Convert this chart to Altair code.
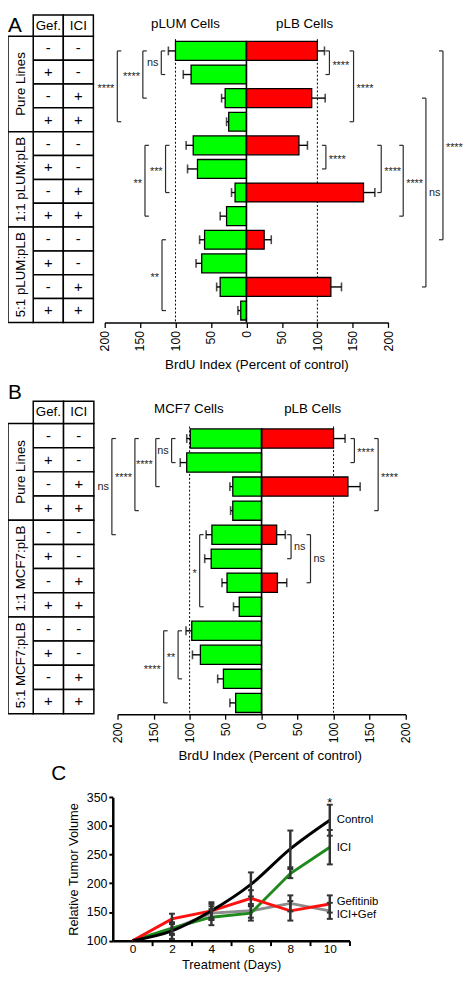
import altair as alt
import pandas as pd

FONT = "Liberation Sans"

# ------------------------------------------------------------------ data
ROWS = [f"r{i}" for i in range(1, 13)]
GEF = ["-", "+", "-", "+", "-", "+", "-", "+", "-", "+", "-", "+"]
ICI = ["-", "-", "+", "+", "-", "-", "+", "+", "-", "-", "+", "+"]
AXIS_TICKS = [-200, -150, -100, -50, 0, 50, 100, 150, 200]
REF_LINES = [-100, 100]

# Panel A
A_GROUPS = ["Pure Lines", "1:1 pLUM:pLB", "5:1 pLUM:pLB"]
A_HEADS = ["pLUM  Cells", "pLB Cells"]
A_PLUM = [100, 78, 30, 25, 75, 69, 16, 28, 59, 63, 37, 8]
A_PLUM_ERR = [10, 11, 5, 3, 10, 14, 5, 9, 7, 8, 5, 4]
A_PLB = [100, 0, 92, 0, 74, 0, 165, 0, 25, 0, 119, 0]
A_PLB_ERR = [10, 0, 19, 0, 12, 0, 16, 0, 10, 0, 15, 0]
# significance brackets: first row, last row, label
A_SIG_ROWS = [(1, 2), (1, 3), (1, 4), (5, 7), (5, 8), (9, 12),
              (1, 2), (1, 4), (5, 6), (5, 7), (5, 8), (3, 11), (1, 9)]
A_SIG_LABELS = ["ns", "****", "****", "***", "**", "**",
                "****", "****", "****", "****", "****", "ns", "****"]

# Panel B
B_GROUPS = ["Pure Lines", "1:1 MCF7:pLB", "5:1 MCF7:pLB"]
B_HEADS = ["MCF7 Cells", "pLB Cells"]
B_MCF7 = [99, 104, 40, 40, 69, 70, 48, 31, 97, 85, 53, 36]
B_MCF7_ERR = [5, 9, 4, 3, 8, 9, 7, 8, 8, 11, 8, 8]
B_PLB = [100, 0, 120, 0, 21, 0, 22, 0, 0, 0, 0, 0]
B_PLB_ERR = [16, 0, 17, 0, 12, 0, 13, 0, 0, 0, 0, 0]
B_SIG_ROWS = [(1, 2), (1, 3), (1, 4), (1, 5), (5, 8), (9, 11), (9, 12),
              (1, 2), (1, 4), (5, 6), (5, 7)]
B_SIG_LABELS = ["ns", "****", "****", "ns", "*", "**", "****",
                "****", "****", "ns", "ns"]

# Panel C
DAYS = [0, 2, 4, 6, 8, 10]
SERIES = ["Control", "ICI", "Gefitinib", "ICI+Gef"]
CONTROL = [100, 117, 152, 198, 260, 310]
CONTROL_ERR = [0, 14, 15, 21, 32, 27]
ICI_V = [100, 122, 141, 148, 217, 263]
ICI_ERR = [0, 10, 14, 13, 8, 30]
GEFIT = [100, 138, 152, 174, 152, 164]
GEFIT_ERR = [0, 9, 12, 14, 17, 15]
ICIGEF = [100, 120, 148, 152, 165, 152]
ICIGEF_ERR = [0, 10, 12, 12, 14, 14]
C_Y_TICKS = [100, 150, 200, 250, 300, 350]
C_LABEL_AT = [310, 262, 167, 144]

# ------------------------------------------------------------------ layout (reference pixels)
W, H = 461, 970
KX, KY = 0.983, H / 988.0


def px(x):
    return round((x - 2) * KX, 2)


def py(y):
    return round(y * KY, 2)


def lin(domain, r0, r1):
    return alt.Scale(domain=domain, range=[r0, r1], nice=False, zero=False)


def band(domain, r0, r1, pi=0.0, po=0.0):
    return alt.Scale(type="band", domain=domain, range=[r0, r1],
                     paddingInner=pi, paddingOuter=po)


LAY_A = dict(hdr=(0.8, 22.7), rows=(22.7, 318), bars=(25.6, 317.9), tx=(2, 28, 90),
             xr=(101.5, 394), axis=318, title_x=258, title_base=366,
             head_x=[-86, 82], head_dy=-2,
             sig_x=[-120, -146, -182, -114, -143, -119, 117, 151, 112, 190, 221, 253, 277])
LAY_B = dict(hdr=(399.3, 422.3), rows=(422.3, 721.7), bars=(425.4, 723.0), tx=(2, 28, 90.5),
             xr=(115, 411.7), axis=722.3, title_x=271.7, title_base=769,
             head_x=[-101, 71], head_dy=-3,
             sig_x=[-125, -147, -176, -208, -86, -116, -136, 129, 162, 41, 68])


def bar_panel(lay, groups, heads, left, left_err, right, right_err, sig_rows, sig_labels):
    h0, h1 = lay["hdr"]
    r0, r1 = lay["rows"]
    b0, b1 = lay["bars"]
    t0, t1, t2 = lay["tx"]
    x0, x1 = lay["xr"]
    ax = lay["axis"]
    L = []

    col_sc = band(["Gef.", "ICI"], px(t1), px(t2))
    row_sc = band(ROWS, py(r0), py(r1))
    hdr_sc = band(["hdr"], py(h0), py(h1))
    xv = lin([-200, 200], px(x0), px(x1))
    bar_sc = band(ROWS, py(b0), py(b1), 0.2, 0.1)
    step = (b1 - b0) / 12.0
    sig_sc = lin([1, 12], py(b0 + 0.5 * step), py(b0 + 11.5 * step))

    # ---- table
    cells = pd.DataFrame({"row": ROWS + ROWS, "col": ["Gef."] * 12 + ["ICI"] * 12,
                          "sym": GEF + ICI})
    enc = dict(x=alt.X("col:N", scale=col_sc, axis=None),
               y=alt.Y("row:N", scale=row_sc, axis=None))
    L.append(alt.Chart(cells).mark_rect(fill="white", stroke="black", strokeWidth=1.5).encode(**enc))
    L.append(alt.Chart(cells).mark_text(font=FONT, fontSize=15, color="black").encode(text="sym:N", **enc))

    grp = pd.DataFrame({"g": groups, "c": ["grp"] * 3})
    encg = dict(x=alt.X("c:N", scale=band(["grp"], px(t0), px(t1)), axis=None),
                y=alt.Y("g:N", scale=band(groups, py(r0), py(r1)), axis=None))
    L.append(alt.Chart(grp).mark_rect(fill="white", stroke="black", strokeWidth=1.5).encode(**encg))
    L.append(alt.Chart(grp).mark_text(font=FONT, fontSize=13.5, angle=270, color="black")
             .encode(text="g:N", **encg))

    hdr = pd.DataFrame({"col": ["Gef.", "ICI"], "h": ["hdr", "hdr"]})
    ench = dict(x=alt.X("col:N", scale=col_sc, axis=None),
                y=alt.Y("h:N", scale=hdr_sc, axis=None))
    L.append(alt.Chart(hdr).mark_rect(fill="white", stroke="black", strokeWidth=1.5).encode(**ench))
    L.append(alt.Chart(hdr).mark_text(font=FONT, fontSize=13.5, color="black").encode(text="col:N", **ench))

    # ---- headings
    hd = pd.DataFrame({"t": heads, "x": lay["head_x"], "h": ["hdr", "hdr"]})
    L.append(alt.Chart(hd).mark_text(font=FONT, fontSize=13.5, dy=lay["head_dy"], color="black").encode(
        x=alt.X("x:Q", scale=xv, axis=None), y=alt.Y("h:N", scale=hdr_sc, axis=None), text="t:N"))

    # ---- dotted reference lines
    L.append(alt.Chart(pd.DataFrame({"x": REF_LINES})).mark_rule(
        color="black", strokeWidth=1, strokeDash=[2, 2]).encode(
        x=alt.X("x:Q", scale=xv, axis=None), y=alt.value(py(b0)), y2=alt.value(py(ax))))

    # ---- bars
    recs = []
    for i, r in enumerate(ROWS):
        if left[i] > 0:
            recs.append(dict(row=r, cell="L", v0=0, v=-left[i], e=-(left[i] + left_err[i])))
        if right[i] > 0:
            recs.append(dict(row=r, cell="R", v0=0, v=right[i], e=right[i] + right_err[i]))
    bars = pd.DataFrame(recs)
    axis = alt.Axis(orient="bottom", offset=py(ax) - H, values=AXIS_TICKS,
                    labelExpr="'' + abs(datum.value)", labelAngle=270, labelAlign="right",
                    labelBaseline="middle", labelPadding=3, labelFont=FONT, labelFontSize=12.5,
                    labelColor="black", tickSize=5, tickWidth=1.3, tickColor="black",
                    domainColor="black", domainWidth=1.5, grid=False, labelOverlap=False,
                    labelFlush=False, title="BrdU Index (Percent of control)", titleFont=FONT,
                    titleFontSize=13.5, titleFontWeight="normal", titleColor="black",
                    titleX=px(lay["title_x"]), titleY=py(lay["title_base"]) - py(ax),
                    titleBaseline="alphabetic", titleAlign="center")
    L.append(alt.Chart(bars).mark_bar(stroke="black", strokeWidth=1.3).encode(
        x=alt.X("v0:Q", scale=xv, axis=axis), x2="v:Q",
        y=alt.Y("row:N", scale=bar_sc, axis=None),
        color=alt.Color("cell:N", scale=alt.Scale(domain=["L", "R"], range=["#00FF00", "#FF0000"]),
                        legend=None)))
    # zero line
    L.append(alt.Chart(pd.DataFrame({"x": [0]})).mark_rule(color="black", strokeWidth=1.6).encode(
        x=alt.X("x:Q", scale=xv, axis=None), y=alt.value(py(b0) + 2), y2=alt.value(py(ax))))
    # error bars
    L.append(alt.Chart(bars).mark_rule(color="black", strokeWidth=1.4).encode(
        x=alt.X("v:Q", scale=xv, axis=None), x2="e:Q", y=alt.Y("row:N", scale=bar_sc, axis=None)))
    L.append(alt.Chart(bars).mark_tick(color="black", thickness=1.6, size=9, orient="vertical").encode(
        x=alt.X("e:Q", scale=xv, axis=None), y=alt.Y("row:N", scale=bar_sc, axis=None)))

    # ---- significance brackets
    sig = pd.DataFrame({"r0": [a for a, b in sig_rows], "r1": [b for a, b in sig_rows],
                        "x": lay["sig_x"], "lab": sig_labels})
    sig["mid"] = (sig["r0"] + sig["r1"]) / 2.0
    sig["side"] = ["L" if v < 0 else "R" for v in sig["x"]]
    L.append(alt.Chart(sig).mark_rule(color="#2a2a2a", strokeWidth=1.2).encode(
        x=alt.X("x:Q", scale=xv, axis=None),
        y=alt.Y("r0:Q", scale=sig_sc, axis=None), y2="r1:Q"))
    ends = pd.concat([sig[["x", "side"]].assign(r=sig["r0"]), sig[["x", "side"]].assign(r=sig["r1"])])
    for side, off in (("L", 4), ("R", -4)):
        e = ends[ends["side"] == side]
        if len(e):
            L.append(alt.Chart(e).mark_rule(color="#2a2a2a", strokeWidth=1.2, x2Offset=off).encode(
                x=alt.X("x:Q", scale=xv, axis=None), x2="x:Q",
                y=alt.Y("r:Q", scale=sig_sc, axis=None)))
    for side, align, dx in (("L", "right", -3), ("R", "left", 3)):
        for star in (True, False):
            s = sig[(sig["side"] == side) & (sig["lab"].str.contains(r"\*") == star)]
            if len(s):
                L.append(alt.Chart(s).mark_text(
                    font=FONT, fontSize=11, align=align, dx=dx, dy=3 if star else 0,
                    baseline="middle", color="#222222").encode(
                    x=alt.X("x:Q", scale=xv, axis=None),
                    y=alt.Y("mid:Q", scale=sig_sc, axis=None), text="lab:N"))
    return L


layers = []
layers += bar_panel(LAY_A, A_GROUPS, A_HEADS, A_PLUM, A_PLUM_ERR, A_PLB, A_PLB_ERR,
                    A_SIG_ROWS, A_SIG_LABELS)
layers += bar_panel(LAY_B, B_GROUPS, B_HEADS, B_MCF7, B_MCF7_ERR, B_PLB, B_PLB_ERR,
                    B_SIG_ROWS, B_SIG_LABELS)

# ------------------------------------------------------------------ panel C
xc = lin([-1, 11], px(110), px(354))
yc = lin([100, 350], py(956), py(808))
C_AXIS_Y = 956
series_vals = {"Control": (CONTROL, CONTROL_ERR, "black", "monotone"),
               "ICI": (ICI_V, ICI_ERR, "#1e8a1e", "linear"),
               "Gefitinib": (GEFIT, GEFIT_ERR, "#ff1010", "linear"),
               "ICI+Gef": (ICIGEF, ICIGEF_ERR, "#8c8c8c", "linear")}

yaxis = alt.Axis(orient="left", offset=-px(110), values=C_Y_TICKS, tickSize=4, tickWidth=2,
                 tickColor="black", domainColor="black", domainWidth=2.5, labelFont=FONT,
                 labelFontSize=12.5, labelColor="black", labelPadding=2, grid=False,
                 title="Relative Tumor Volume", titleFont=FONT, titleFontSize=13,
                 titleFontWeight="normal", titleColor="black", titleAngle=270,
                 titleX=px(70) - px(110), titleY=(py(808) + py(956)) / 2,
                 titleBaseline="middle", titleAlign="center", labelFlush=False)
xaxis = alt.Axis(orient="bottom", offset=py(C_AXIS_Y) - H, values=[0, 2, 4, 6, 8, 10],
                 ticks=False, labelPadding=3, domainColor="black", domainWidth=2.5,
                 labelFont=FONT, labelFontSize=12, labelColor="black", grid=False,
                 labelFlush=False, title="Treatment (Days)", titleFont=FONT, titleFontSize=13,
                 titleFontWeight="normal", titleColor="black", titleX=px(232),
                 titleY=py(985) - py(C_AXIS_Y), titleBaseline="alphabetic", titleAlign="center")

first = True
for name in ["ICI+Gef", "ICI", "Gefitinib", "Control"]:
    vals, errs, colr, interp = series_vals[name]
    df = pd.DataFrame({"day": DAYS, "val": vals})
    layers.append(alt.Chart(df).mark_line(color=colr, strokeWidth=3, interpolate=interp).encode(
        x=alt.X("day:Q", scale=xc, axis=xaxis if first else None),
        y=alt.Y("val:Q", scale=yc, axis=yaxis if first else None)))
    first = False

# odd-day ticks
layers.append(alt.Chart(pd.DataFrame({"day": [1, 3, 5, 7, 9, 11]})).mark_point(opacity=0).encode(
    x=alt.X("day:Q", scale=xc, axis=alt.Axis(orient="bottom", offset=py(C_AXIS_Y) - H,
                                            values=[1, 3, 5, 7, 9, 11], labels=False,
                                            domain=False, tickSize=5, tickWidth=2,
                                            tickColor="black", grid=False, title=None))))

err_recs = []
for name in SERIES:
    vals, errs, _, _ = series_vals[name]
    for d, v, e in zip(DAYS, vals, errs):
        if e > 0:
            err_recs.append(dict(series=name, day=d, lo=v - e, hi=v + e))
err = pd.DataFrame(err_recs)
layers.append(alt.Chart(err).mark_rule(color="#333333", strokeWidth=2.5).encode(
    x=alt.X("day:Q", scale=xc, axis=None), y=alt.Y("lo:Q", scale=yc, axis=None), y2="hi:Q"))
caps = pd.concat([err[["day"]].assign(y=err["lo"]), err[["day"]].assign(y=err["hi"])])
layers.append(alt.Chart(caps).mark_rule(color="#333333", strokeWidth=2, xOffset=-3, x2Offset=3).encode(
    x=alt.X("day:Q", scale=xc, axis=None), x2="day:Q", y=alt.Y("y:Q", scale=yc, axis=None)))

lab = pd.DataFrame({"t": SERIES, "day": [10] * 4, "val": C_LABEL_AT})
layers.append(alt.Chart(lab).mark_text(font=FONT, fontSize=11.5, align="left", dx=7,
                                       baseline="middle", color="black").encode(
    x=alt.X("day:Q", scale=xc, axis=None), y=alt.Y("val:Q", scale=yc, axis=None), text="t:N"))
layers.append(alt.Chart(pd.DataFrame({"t": ["*"], "day": [10], "val": [333]})).mark_text(
    font=FONT, fontSize=13, baseline="alphabetic", color="black").encode(
    x=alt.X("day:Q", scale=xc, axis=None), y=alt.Y("val:Q", scale=yc, axis=None), text="t:N"))

# panel letters
for letter, lx, ly in (("A", 2, 18.5), ("B", 2, 397.5), ("C", 46.5, 790.5)):
    layers.append(alt.Chart(pd.DataFrame({"t": [letter]})).mark_text(
        font=FONT, fontSize=21, align="left", baseline="alphabetic", color="black").encode(
        text="t:N", x=alt.value(px(lx)), y=alt.value(py(ly))))

chart = (alt.layer(*layers)
         .resolve_scale(x="independent", y="independent", color="independent")
         .properties(width=W, height=H, padding=0, autosize=alt.AutoSizeParams(type="none"))
         .configure(font=FONT)
         .configure_view(stroke=None))

chart.save("out.html", embed_options={"renderer": "svg", "actions": False})
